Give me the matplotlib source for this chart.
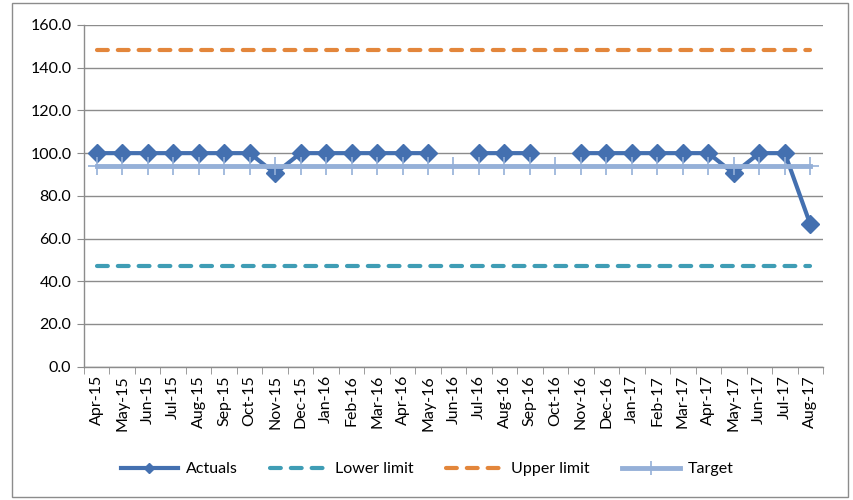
import numpy as np
import matplotlib
matplotlib.use("Agg")
import matplotlib.pyplot as plt
from matplotlib.lines import Line2D
from matplotlib.patches import Rectangle
from matplotlib.ticker import FixedLocator, FormatStrFormatter

plt.rcParams['font.family'] = ['Lato', 'DejaVu Sans']

months = ["Apr-15", "May-15", "Jun-15", "Jul-15", "Aug-15", "Sep-15", "Oct-15",
          "Nov-15", "Dec-15", "Jan-16", "Feb-16", "Mar-16", "Apr-16", "May-16",
          "Jun-16", "Jul-16", "Aug-16", "Sep-16", "Oct-16", "Nov-16", "Dec-16",
          "Jan-17", "Feb-17", "Mar-17", "Apr-17", "May-17", "Jun-17", "Jul-17",
          "Aug-17"]
actuals = [100, 100, 100, 100, 100, 100, 100,
           90.5, 100, 100, 100, 100, 100, 100,
           np.nan, 100, 100, 100, np.nan, 100, 100,
           100, 100, 100, 100, 90.5, 100, 100,
           66.7]
lower_limit = 47.3
upper_limit = 148.3
target = 94.0

n = len(months)
x = np.arange(n)

fig = plt.figure(figsize=(8.54, 5.0), dpi=100)
ax = fig.add_axes([84 / 854, 1 - 366.7 / 500, (823 - 84) / 854, (366.7 - 25) / 500])

c_act = '#4470B0'
c_low = '#3F9DB5'
c_up = '#E3863B'
c_tgt = '#95B0D8'
fs = 11.5
dash = (2.6, 2.4)

ax.plot(x, actuals, color=c_act, lw=3.0, marker='D', markersize=9,
        markeredgecolor=c_act, markerfacecolor=c_act, zorder=3)
ax.plot(x, [lower_limit] * n, color=c_low, lw=3.0, dashes=dash,
        dash_capstyle='round', zorder=3)
ax.plot(x, [upper_limit] * n, color=c_up, lw=3.0, dashes=dash,
        dash_capstyle='round', zorder=3)
ax.plot(x, [target] * n, color=c_tgt, lw=3.5, marker='+', markersize=13,
        markeredgewidth=1.2, markeredgecolor=c_tgt, zorder=4)

ax.set_xlim(-0.5, n - 0.5)
ax.set_ylim(0, 160)
ax.yaxis.set_major_locator(FixedLocator(np.arange(0, 161, 20)))
ax.yaxis.set_major_formatter(FormatStrFormatter('%.1f'))
ax.grid(axis='y', color='#8C8C8C', lw=1.0)
ax.set_axisbelow(True)

ax.set_xticks(x)
ax.set_xticklabels(months, rotation=90, fontsize=fs)
ax.set_xticks(np.arange(-0.5, n, 1.0), minor=True)
ax.tick_params(axis='x', which='major', length=0, pad=6)
ax.tick_params(axis='x', which='minor', length=5, color='#8C8C8C', direction='out')
ax.tick_params(axis='y', length=5, color='#8C8C8C', labelsize=fs, pad=4)

for side in ('top', 'right'):
    ax.spines[side].set_visible(False)
for side in ('left', 'bottom'):
    ax.spines[side].set_color('#8C8C8C')
    ax.spines[side].set_linewidth(1.0)

# Legend keys with smaller markers than the plotted series
handles = [
    Line2D([], [], color=c_act, lw=3.0, marker='D', markersize=5.5,
           markeredgecolor=c_act, markerfacecolor=c_act),
    Line2D([], [], color=c_low, lw=3.0, dashes=dash, dash_capstyle='round'),
    Line2D([], [], color=c_up, lw=3.0, dashes=dash, dash_capstyle='round'),
    Line2D([], [], color=c_tgt, lw=3.5, marker='+', markersize=10,
           markeredgewidth=1.2, markeredgecolor=c_tgt),
]
labels = ['Actuals', 'Lower limit', 'Upper limit', 'Target']
fig.legend(handles, labels, loc='center', bbox_to_anchor=(0.5, 1 - 469 / 500),
           ncol=4, frameon=False, fontsize=fs, handlelength=3.6,
           columnspacing=2.0, handletextpad=0.5)

fig.patches.append(Rectangle((12 / 854, 3 / 500), (848 - 12) / 854, (497 - 3) / 500,
                             transform=fig.transFigure, fill=False,
                             edgecolor='#8C8C8C', lw=1.0))

fig.savefig('out.png', dpi=100)
